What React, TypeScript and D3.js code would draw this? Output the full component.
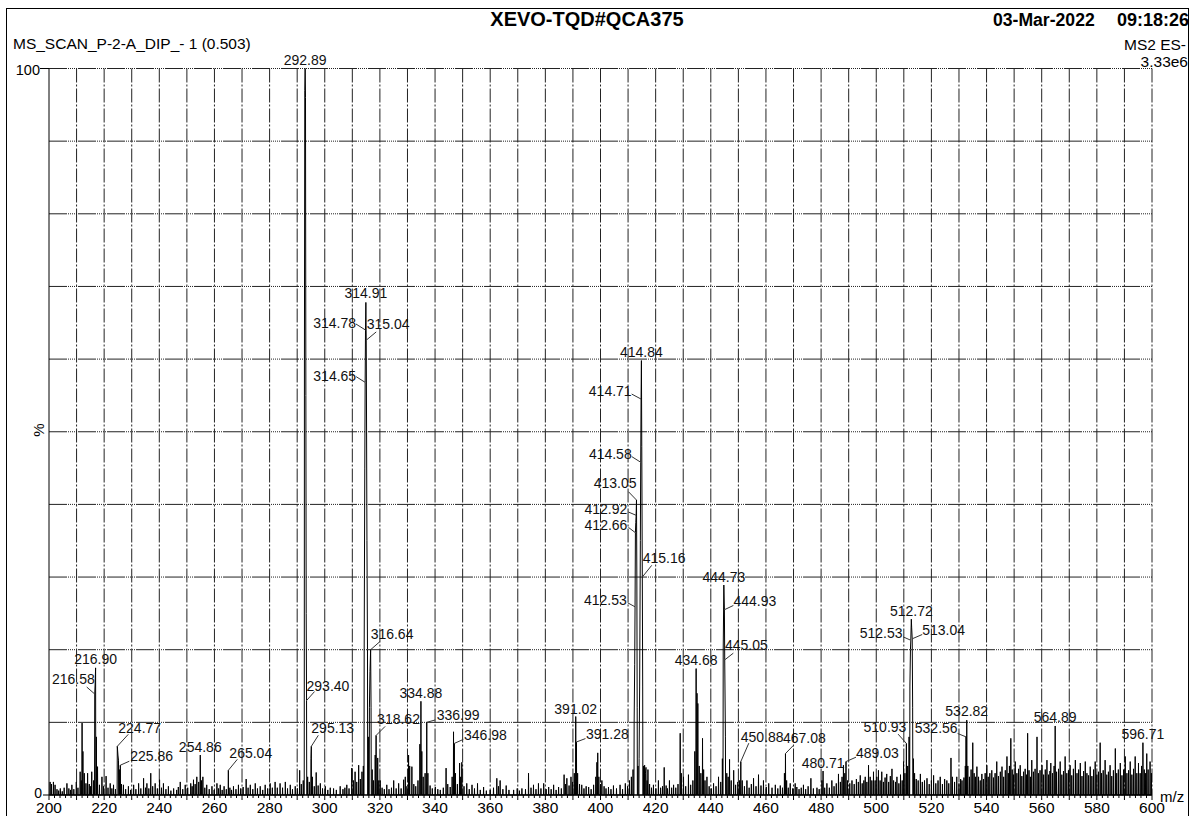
import React from "react";
import * as d3 from "d3";

// ---- Data (m/z, relative intensity %) ----
const spectrum: [number, number][] = [
  [200.4,1.8],[200.9,1.5],[201.6,1.8],[202.2,1.4],[202.9,0.8],[203.5,0.6],[204.1,0.9],[204.8,0.5],[205.5,1.0],[206.5,1.6],[207.2,0.9],[207.8,0.7],[208.3,1.4],[209.0,0.8],[209.9,1.8],[210.5,1.0],[211.3,3.2],[211.7,2.0],[212.0,9.9],[212.3,6.0],[212.8,3.0],[213.4,1.6],[214.0,3.0],[214.6,1.5],[215.1,1.2],[215.5,3.2],[216.2,2.0],[216.58,13.9],[216.75,15.5],[216.90,17.5],[217.2,8.0],[217.6,3.9],[218.3,1.4],[219.2,2.5],[219.8,1.2],[220.7,2.6],[221.4,1.0],[222.2,1.6],[222.8,0.9],[223.4,1.4],[224.1,0.8],[224.77,6.7],[225.0,5.5],[225.2,4.8],[225.5,3.5],[225.86,4.1],[226.3,1.5],[227.0,1.4],[227.8,0.8],[228.8,1.2],[229.6,0.7],
  [230.7,1.4],[231.5,0.8],[232.5,1.6],[233.3,0.9],[234.3,2.3],[235.0,1.0],[235.5,1.6],[236.2,0.9],[236.9,3.0],[237.6,1.2],[238.5,1.6],[239.3,0.9],[240.1,2.1],[240.8,1.0],[241.5,1.6],[242.4,0.8],[243.3,1.2],[244.2,0.6],[245.2,0.9],[246.3,0.7],[246.9,1.1],[247.6,1.8],[248.5,0.8],[249.4,1.4],[250.3,1.0],[251.4,1.6],[251.9,1.2],[252.4,2.1],[253.0,1.5],[253.6,2.5],[254.3,1.8],[254.86,5.5],[255.3,2.0],[255.8,2.5],[256.5,1.0],[257.2,1.4],[258.1,0.8],[259.1,1.2],[259.9,0.7],
  [260.9,1.6],[261.5,0.9],[262.1,1.4],[262.8,0.7],[263.5,1.2],[264.3,0.8],[265.04,3.4],[265.6,1.0],[266.2,0.7],[266.9,1.2],[267.8,0.8],[268.7,1.4],[269.5,0.9],[270.4,1.1],[271.5,2.2],[272.2,1.0],[273.0,1.4],[273.9,0.8],[274.8,1.6],[275.6,0.9],[276.6,1.2],[277.5,0.7],[278.4,1.4],[279.3,0.9],[280.2,1.6],[281.0,1.0],[282.0,1.8],[282.8,1.0],[283.8,1.6],[284.7,1.0],[285.7,1.8],[286.5,0.9],[287.5,1.4],[288.3,0.8],[289.3,1.2],[290.1,0.9],[290.9,3.4],[291.5,1.5],[292.2,2.0],
  [292.63,60],[292.76,97],[292.89,100],[293.02,96],[293.15,55],[293.27,25],[293.40,13.0],[293.8,2.5],[294.4,1.8],[295.0,5.0],[295.13,6.7],[295.5,2.5],[296.2,1.2],[296.9,3.1],[297.6,1.3],[298.4,1.6],[299.2,0.9],[300.2,1.2],[301.1,0.7],[302.0,1.0],[303.2,0.9],[304.2,0.7],[305.6,1.2],[306.6,0.8],[307.3,1.0],[308.0,1.4],[308.8,0.9],[309.8,3.7],[310.4,2.0],[311.0,3.2],[311.6,1.8],[312.3,4.1],[312.9,2.2],[313.5,3.2],[314.0,4.0],[314.3,20],[314.52,45],[314.65,56.8],[314.78,64.0],[314.91,67.8],[315.04,62.6],[315.17,50],[315.3,35],[315.5,20],[315.8,8],[316.2,12],[316.4,17],[316.64,20.0],[316.8,12],[317.2,3.5],[317.7,2.0],[318.3,5.5],[318.62,8.2],[319.2,5.1],[319.6,2.0],[320.1,2.0],[320.8,1.0],[321.6,0.8],[322.5,1.4],[323.3,0.8],[324.2,1.0],[325.0,2.0],[325.9,0.9],[326.8,1.6],[327.7,0.9],[328.6,2.1],[329.2,2.5],[329.8,1.2],
  [330.4,5.5],[330.8,4.0],[331.6,3.9],[332.3,1.5],[333.0,1.2],[333.8,2.0],[334.5,7.0],[334.88,12.9],[335.2,6.0],[335.7,2.5],[336.4,3.0],[336.99,10.0],[337.4,3.0],[338.2,1.3],[339.0,0.9],[340.1,1.1],[341.0,0.8],[341.9,0.7],[343.0,1.0],[344.0,3.7],[344.6,1.5],[345.5,1.1],[346.2,2.5],[346.7,8.7],[346.98,7.1],[347.4,3.0],[348.1,1.5],[348.9,4.4],[349.3,2.5],[349.7,4.5],[350.5,1.2],[351.5,1.6],[352.4,0.8],[353.4,1.4],[354.3,0.9],[355.4,1.6],[356.4,0.7],[357.6,1.1],[358.6,0.6],[360.0,0.7],[361.2,1.0],
  [362.4,2.3],[363.0,1.2],[363.6,2.0],[364.6,0.8],[365.8,1.3],[366.8,0.7],[368.5,0.7],[369.8,0.9],[370.6,0.6],[371.5,0.9],[372.8,0.8],[373.9,3.0],[374.8,1.0],[375.7,1.4],[376.6,0.8],[377.5,1.6],[378.4,0.9],[379.4,1.6],[380.3,0.8],[381.2,1.1],[382.1,0.8],[383.0,1.4],[383.9,0.7],[384.8,1.1],[385.8,0.9],[386.8,2.8],[387.3,1.5],[387.8,2.3],[388.6,1.3],[389.3,2.5],[389.9,1.8],[390.5,3.0],[391.02,10.8],[391.28,7.3],[391.7,3.0],[392.4,1.5],[393.2,1.4],[394.0,0.9],[394.8,1.2],[395.7,1.1],[396.6,0.8],[397.5,1.4],[398.3,2.5],[398.7,4.5],[399.0,5.8],[399.4,2.5],[400.0,1.5],[400.5,2.0],[401.3,1.2],[402.0,0.9],[402.9,1.1],[403.8,0.8],[404.7,1.3],[405.8,0.9],[407.1,1.4],[408.0,0.8],[409.0,1.6],[409.8,1.2],[410.5,2.0],[411.2,2.5],[411.8,3.5],
  [412.2,10],[412.4,18],[412.53,25.9],[412.66,36.1],[412.79,37.5],[412.92,38.5],[413.05,40.6],[413.18,30],[413.3,12],[413.6,4],[414.0,5],[414.2,15],[414.45,35],[414.58,45.8],[414.71,54.5],[414.84,59.8],[414.97,48],[415.16,30.0],[415.3,15],[415.6,4.0],[416.0,4.1],[416.3,3.0],[416.5,3.8],[416.9,2.0],[417.2,3.5],[417.8,1.5],[418.5,1.0],[419.2,1.4],[420.1,0.9],
  [421.0,2.0],[421.8,1.0],[422.5,1.2],[423.1,3.8],[423.8,1.3],[424.3,0.9],[425.0,2.0],[425.8,1.0],[426.5,1.4],[427.3,1.0],[428.1,1.5],[428.9,8.5],[429.3,3.0],[430.1,2.5],[430.9,1.2],[431.9,2.8],[432.7,1.4],[433.5,2.0],[434.2,6.0],[434.68,17.4],[435.0,14.0],[435.3,12.6],[435.8,4.0],[436.4,3.0],[437.0,7.8],[437.4,3.5],[437.9,2.0],[438.6,2.5],[439.4,1.2],[440.2,0.9],[441.0,1.6],[441.9,1.2],[442.8,2.5],[443.6,1.8],[444.2,5.0],[444.5,20],[444.73,28.9],[444.93,25.5],[445.05,18.6],[445.3,8.0],[445.8,3.0],[446.3,2.5],[446.8,4.9],[447.4,2.0],[448.3,3.4],[449.0,1.4],[449.8,1.8],[450.4,2.0],[450.88,4.6],[451.4,2.0],[452.2,1.2],[453.1,2.0],[453.9,1.0],[454.7,1.5],[455.5,2.3],[456.4,1.2],[457.3,2.8],[458.2,1.3],[459.1,2.0],[460.1,1.1],[461.0,1.6],[462.2,1.0],[463.4,1.4],[464.3,0.9],[465.2,1.3],[466.0,1.0],[466.7,3.0],[467.08,5.7],[467.5,2.0],[468.1,1.0],[468.8,1.6],[469.7,0.9],[470.6,1.6],
  [471.2,1.1],[472.0,0.8],[472.8,1.0],[473.6,1.4],[474.4,0.8],[475.3,1.2],[476.3,2.3],[477.2,0.9],[478.5,1.0],[479.3,0.8],[480.3,2.0],[480.71,3.3],[481.3,1.0],[482.1,1.6],[483.0,1.0],[483.9,2.0],[484.7,1.2],[485.5,1.6],[486.3,2.9],[487.0,1.8],[487.6,2.5],[488.1,4.1],[488.6,3.0],[489.03,4.6],[489.6,2.0],[490.4,1.6],[491.2,2.0],[492.0,1.5],[492.8,2.2],[493.5,1.8],[494.2,2.7],[494.9,1.6],[495.5,2.0],[496.0,2.5],[496.6,1.8],[497.2,4.1],[497.8,2.5],[498.4,2.0],[499.0,3.2],[499.6,2.0],[500.2,2.5],[500.8,3.4],[501.4,2.0],[502.0,3.2],[502.6,1.8],[503.2,2.4],[503.8,2.9],[504.5,1.8],[505.1,2.6],[505.7,3.6],[506.3,2.0],[507.0,1.8],[507.5,2.5],[508.2,1.6],[508.8,2.8],[509.4,2.0],[509.9,4.6],[510.4,3.0],[510.93,7.1],[511.4,4.0],[511.9,8],[512.2,15],[512.4,20],[512.53,21.3],[512.72,24.2],[512.85,23],[513.04,21.5],[513.2,12],[513.5,5],[513.9,3.0],[514.5,2.2],[515.2,2.0],
  [516.0,2.9],[516.7,1.8],[517.5,2.0],[518.4,2.3],[519.2,1.5],[520.0,2.0],[520.8,2.7],[521.6,1.6],[522.4,2.0],[523.2,2.5],[524.0,1.5],[524.8,2.2],[525.6,2.0],[526.3,1.6],[527.1,5.1],[527.6,2.5],[528.4,1.8],[529.2,2.5],[530.0,1.6],[530.6,2.2],[531.1,2.0],[531.8,2.4],[532.3,4.0],[532.56,8.0],[532.82,10.3],[533.2,4.0],[533.8,2.5],[534.4,3.5],[535.0,7.2],[535.5,3.0],[536.0,2.5],[536.5,3.9],[537.1,2.5],[537.7,2.0],[538.3,2.9],[538.9,2.2],[539.5,3.0],
  [540.1,4.1],[540.6,2.5],[541.2,3.0],[541.9,3.4],[542.5,2.4],[543.1,3.0],[543.7,4.6],[544.3,2.6],[545.0,3.2],[545.6,3.9],[546.2,2.5],[546.8,3.4],[547.4,5.3],[547.9,3.0],[548.3,4.0],[548.8,7.8],[549.3,3.5],[549.8,2.8],[550.4,4.6],[551.0,3.0],[551.6,3.6],[552.2,4.1],[552.8,2.6],[553.4,3.2],[554.0,3.6],[554.5,2.8],[554.9,8.5],[555.4,3.4],[555.9,2.5],[556.4,4.8],[557.0,3.2],[557.6,3.6],[558.3,8.0],[558.8,3.0],[559.4,3.4],[560.1,4.1],[560.7,2.8],[561.3,3.5],[561.9,4.8],[562.5,2.8],[563.0,3.3],[563.3,4.4],[563.9,3.0],[564.5,4.0],[564.89,9.5],[565.4,3.2],[566.1,3.6],[566.7,4.6],[567.3,2.8],[567.9,3.3],[568.5,5.3],[569.1,3.0],[569.7,3.4],[570.3,4.1],[570.9,2.7],[571.5,3.6],[572.2,4.8],[572.8,3.0],[573.4,3.5],[574.0,4.4],[574.6,2.6],[575.2,3.3],[575.8,4.6],[576.4,3.0],[577.0,2.7],[577.6,3.9],[578.2,2.6],[578.8,3.5],[579.4,4.6],[580.0,2.8],[580.6,3.2],[581.2,7.2],[581.7,3.0],[582.3,3.4],[583.0,4.8],[583.6,2.8],[584.2,3.2],[584.8,4.1],[585.4,2.6],[586.0,3.4],[586.7,6.4],[587.2,3.0],[587.8,3.5],[588.5,4.4],[589.1,2.7],[589.7,3.5],[590.3,5.3],[590.9,3.0],[591.5,3.4],[592.1,4.6],[592.7,2.8],[593.3,3.6],[593.9,5.3],[594.5,3.0],[595.1,4.4],[595.7,3.0],[596.2,4.0],[596.71,7.2],[597.2,3.5],[597.6,3.0],[598.1,5.7],[598.6,3.5],[599.3,4.6],[599.8,3.0],
];

// Annotated peaks (m/z values shown as labels)
const labeledMz: number[] = [
  292.89, 216.90, 216.58, 224.77, 225.86, 254.86, 265.04, 293.40, 295.13,
  314.91, 314.78, 315.04, 314.65, 316.64, 318.62, 334.88, 336.99, 346.98,
  391.02, 391.28, 412.53, 412.66, 412.92, 413.05, 414.58, 414.71, 414.84, 415.16,
  434.68, 444.73, 444.93, 445.05, 450.88, 467.08, 480.71, 489.03,
  510.93, 512.53, 512.72, 513.04, 532.56, 532.82, 564.89, 596.71,
];

// x tick labels
const xTickLabels: number[] = [200, 220, 240, 260, 280, 300, 320, 340, 360, 380, 400, 420, 440, 460, 480, 500, 520, 540, 560, 580, 600];

// Label layout (pixel offsets from the peak top): anchor, text dx, dy, leader start dx, dy
type Lay = [string, number, number, number | null, number | null];
const labelLayout: Lay[] = [
  ["middle", 0, -4, null, null],
  ["middle", 0, -4, null, null],
  ["end", 0, -10, -8, -7],
  ["start", 1, -13, 11, -12],
  ["start", 10, -4, 9, -4],
  ["middle", 0, -3, null, null],
  ["start", 1, -12, 9, -11],
  ["start", 0, -10, 8, -9],
  ["start", 0, -13, 7, -11],
  ["middle", 0, -4, null, null],
  ["end", -9.5, -2.5, -9.5, -6],
  ["start", 0.5, -11.7, 10, -8.3],
  ["end", -9, -1.7, -9, -5.7],
  ["start", 0, -10.7, 9.5, -8.3],
  ["start", 1, -11, 9, -9],
  ["middle", 0, -3, null, null],
  ["start", 10, -2.7, 8.5, -2.4],
  ["start", 9.7, -3.3, 9, -4],
  ["middle", 0, -3, null, null],
  ["start", 9.5, -3.4, 9, -3.4],
  ["end", -8.3, -2.3, -7.3, -4],
  ["end", -8, -2.7, -7, -5.4],
  ["end", -8.8, -1, -7.8, -3.3],
  ["end", 0, -11.7, -8, -8.3],
  ["end", -9, -3.4, -9, -5.7],
  ["end", -9.4, -2.6, -9.4, -5],
  ["middle", 0, -3.3, null, null],
  ["start", 0.4, -14.4, 9.4, -11.7],
  ["middle", 0, -3.3, null, null],
  ["middle", 0, -3.3, null, null],
  ["start", 9, -3.3, 9, -4.3],
  ["start", 0.3, -10, 8.6, -6.7],
  ["start", 0, -20, 8, -18.4],
  ["start", -2.5, -10.6, 8, -8.3],
  ["middle", 0, -3, null, null],
  ["start", 10, -3.4, 10, -4.4],
  ["end", 0, -11.6, -8.3, -9.3],
  ["end", -8.3, -2.4, -7.7, -3.4],
  ["middle", 0, -3.3, null, null],
  ["start", 10, -4.3, 10, -4.3],
  ["end", -8.4, -3.4, -8.4, -3.4],
  ["middle", 0, -4, null, null],
  ["middle", 0, -4, null, null],
  ["middle", 0, -3.4, null, null],
];

const FONT = "'Liberation Sans', Arial, Helvetica, sans-serif";

export default function App() {
  const W = 1193, H = 816;
  const x = d3.scaleLinear().domain([200, 600]).range([49, 1152]);
  const y = d3.scaleLinear().domain([0, 100]).range([795, 68.5]);

  const vGrid = d3.range(210, 601, 10);
  const hGrid = d3.range(10, 101, 10);
  const minorTicks = d3.range(200, 601, 2).filter((v) => v % 10 !== 0);
  const majorTicks = d3.range(200, 601, 10);
  const intensityOf = new Map(spectrum.map(([m, v]) => [m.toFixed(2), v]));

  // Profile trace: each run of closely spaced points rises from and returns to the baseline
  const sorted = [...spectrum].sort((a, b) => a[0] - b[0]);
  const profile: [number, number][] = [];
  const half = 0.07;
  sorted.forEach(([m, v], i) => {
    const prev = sorted[i - 1];
    const next = sorted[i + 1];
    if (!prev || m - prev[0] > 0.25) profile.push([m - half, 0]);
    profile.push([m, v]);
    if (!next || next[0] - m > 0.25) profile.push([m + half, 0]);
  });
  const line = d3.line<[number, number]>().x((d) => x(d[0])).y((d) => y(d[1]));

  return (
    <svg width={W} height={H} style={{ position: "absolute", left: 0, top: 0, background: "#fff" }} fontFamily={FONT}>
      <rect x={0} y={0} width={W} height={H} fill="#fff" />
      <rect x={6.5} y={8.5} width={1182} height={840} fill="none" stroke="#000" strokeWidth={1} />

      {/* header texts */}
      <text x={587} y={26} textAnchor="middle" fontWeight="bold" fontSize={20}>XEVO-TQD#QCA375</text>
      <text x={993} y={26} fontWeight="bold" fontSize={17.6}>03-Mar-2022</text>
      <text x={1189} y={26} textAnchor="end" fontWeight="bold" fontSize={18}>09:18:26</text>
      <text x={13} y={49} fontSize={15.5}>MS_SCAN_P-2-A_DIP_- 1 (0.503)</text>
      <text x={1186} y={50} textAnchor="end" fontSize={15.5}>MS2 ES-</text>
      <text x={1188} y={66.5} textAnchor="end" fontSize={15.5}>3.33e6</text>

      {/* grid */}
      {vGrid.map((v) => (
        <line key={"vg" + v} x1={x(v)} x2={x(v)} y1={y(100)} y2={y(0)} stroke="#222" strokeWidth={1} strokeDasharray="14 2 2 2" />
      ))}
      {hGrid.map((v) => (
        <line key={"hg" + v} x1={x(200)} x2={x(600)} y1={y(v)} y2={y(v)} stroke="#222" strokeWidth={1} strokeDasharray="18 1 1 1 1 1 1 1 1 1 1 1" />
      ))}

      {/* spectrum profile */}
      <path d={line(profile) ?? ""} fill="none" stroke="#000" strokeWidth={1} strokeLinejoin="miter" />

      {/* axes */}
      <line x1={x(200)} x2={x(200)} y1={y(100)} y2={y(0)} stroke="#000" strokeWidth={1} />
      <line x1={x(200)} x2={x(600)} y1={y(0)} y2={y(0)} stroke="#000" strokeWidth={1.5} />
      <line x1={40} x2={x(200)} y1={y(100)} y2={y(100)} stroke="#000" strokeWidth={1} />
      <line x1={43} x2={x(200)} y1={y(0)} y2={y(0)} stroke="#000" strokeWidth={1} />
      <text x={40} y={75} textAnchor="end" fontSize={14.5}>100</text>
      <text x={42} y={798} textAnchor="end" fontSize={14}>0</text>
      <text transform="translate(44,430) rotate(-90)" textAnchor="middle" fontSize={15}>%</text>

      {minorTicks.map((v) => (
        <line key={"mt" + v} x1={x(v)} x2={x(v)} y1={y(0)} y2={y(0) + 3} stroke="#000" strokeWidth={1} />
      ))}
      {majorTicks.map((v) => (
        <line key={"Mt" + v} x1={x(v)} x2={x(v)} y1={y(0)} y2={y(0) + 5} stroke="#000" strokeWidth={1} />
      ))}
      {xTickLabels.map((v) => (
        <text key={"xl" + v} x={x(v)} y={813} textAnchor="middle" fontSize={15.5}>{v}</text>
      ))}
      <text x={1160} y={802} fontSize={15}>m/z</text>

      {/* peak labels */}
      {labeledMz.map((m, i) => {
        const [anchor, tx, ty, lx, ly] = labelLayout[i];
        const px = x(m);
        const py = y(intensityOf.get(m.toFixed(2)) ?? 0);
        return (
          <g key={"lb" + i}>
            {lx !== null && ly !== null && (
              <line x1={px + lx} y1={py + ly} x2={px} y2={py} stroke="#333" strokeWidth={1} />
            )}
            <text x={px + tx} y={py + ty} textAnchor={anchor as any} fontSize={14} fill="#111">
              {m.toFixed(2)}
            </text>
          </g>
        );
      })}
    </svg>
  );
}
